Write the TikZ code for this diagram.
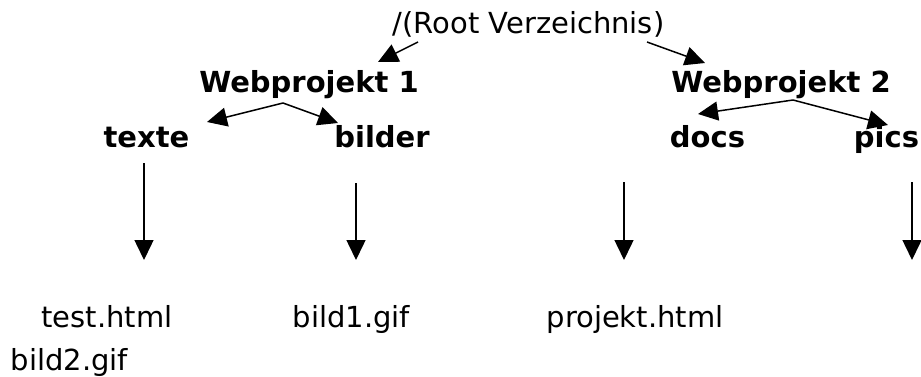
\documentclass[tikz,border=0pt]{standalone}
\usepackage{fontspec}
\setmainfont{DejaVu Sans}
\usepackage{tikz}
\usetikzlibrary{arrows.meta}

\begin{document}
\begin{tikzpicture}[x=1pt,y=1pt,
		pfeil/.style={-{Triangle[length=20pt,width=19pt]},line width=1.5pt},
		ordner/.style={anchor=base,inner sep=0pt,font=\fontsize{29}{35}\selectfont\bfseries},
		datei/.style={anchor=base,inner sep=0pt,font=\fontsize{29}{35}\selectfont}]
	\useasboundingbox (0,0) rectangle (921,376);
	
	\node[datei] (root) at (528.5,343) {/(Root Verzeichnis)};
	
	\node[ordner] (wpa) at (309,284) {Webprojekt 1};
	\node[ordner] (wpb) at (781,284) {Webprojekt 2};
	
	\node[ordner] (texte) at (146.5,229) {texte};
	\node[ordner] (bilder) at (382,229) {bilder};
	\node[ordner] (docs) at (707.5,229) {docs};
	\node[ordner] (pics) at (886.5,229) {pics};
	
	\node[datei] (test) at (107,49) {test.html};
	\node[datei] (bild2) at (69.5,6) {bild2.gif};
	\node[datei] (bild1) at (351.5,49) {bild1.gif};
	\node[datei] (projekt) at (635,49) {projekt.html};
	\coordinate (picsend) at (912,116);
	
	%\draw[pfeil] (root) -- (wpa);
	\draw[pfeil] ([shift={(-110.5,-9)}]root.base) -- ([shift={(69,30)}]wpa.base);
	\draw[pfeil] ([shift={(118.5,-9)}]root.base) -- ([shift={(-76,29)}]wpb.base);
	
	\draw[pfeil] ([shift={(-26,-11)}]wpa.base) -- ([shift={(60.5,25)}]texte.base);
	\draw[pfeil] ([shift={(-26,-11)}]wpa.base) -- ([shift={(-44,24)}]bilder.base);
	\draw[pfeil] ([shift={(12,-8)}]wpb.base) -- ([shift={(-9.5,33)}]docs.base);
	\draw[pfeil] ([shift={(12,-8)}]wpb.base) -- ([shift={(1.5,22)}]pics.base);
	
	\draw[pfeil] ([shift={(-2.5,-16)}]texte.base) -- ([shift={(37,67)}]test.base);
	\draw[pfeil] ([shift={(-26,-36)}]bilder.base) -- ([shift={(4.5,67)}]bild1.base);
	\draw[pfeil] ([shift={(-83.5,-35)}]docs.base) -- ([shift={(-11,67)}]projekt.base);
	\draw[pfeil] ([shift={(25.5,-35)}]pics.base) -- (picsend);
\end{tikzpicture}
\end{document}
